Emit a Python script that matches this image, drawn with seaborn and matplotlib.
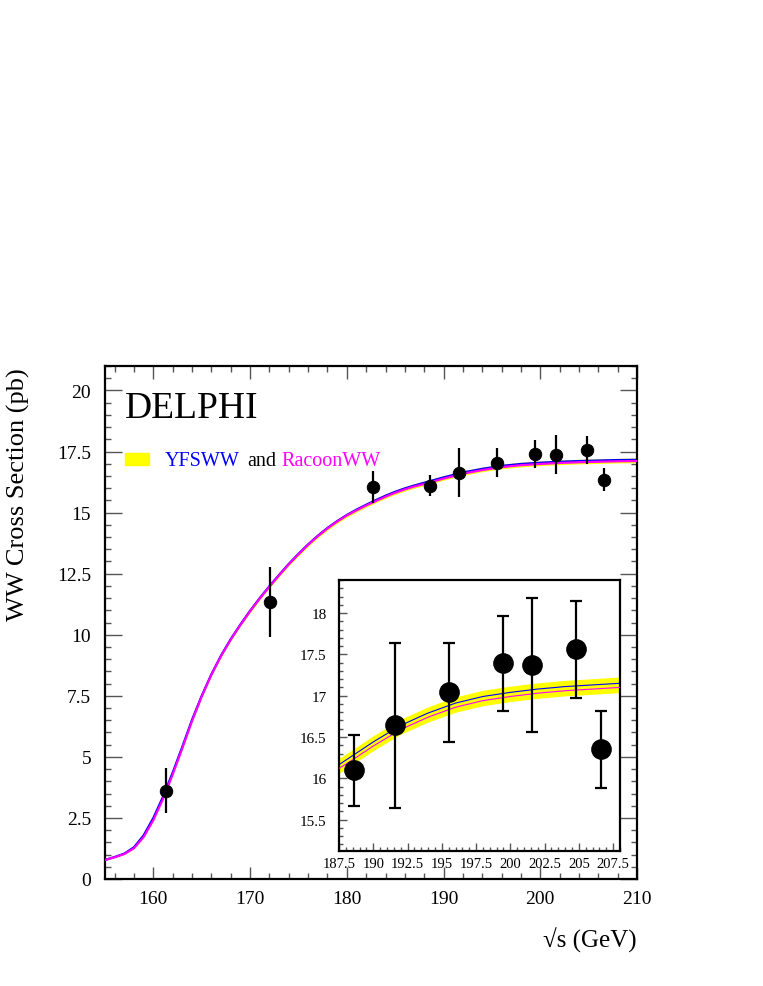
import numpy as np
import matplotlib
matplotlib.use("Agg")
import matplotlib.pyplot as plt
import seaborn as sns
from matplotlib.ticker import MultipleLocator, FuncFormatter

sns.set_style("ticks")
plt.rcParams["font.family"] = ["Liberation Serif", "DejaVu Serif"]
plt.rcParams["text.color"] = "black"
plt.rcParams["xtick.labelcolor"] = "black"
plt.rcParams["ytick.labelcolor"] = "black"

# theory curves
energy = [155, 156, 157, 158, 159, 160, 161, 162, 163, 164, 165, 166, 167, 168,
          169, 170, 171, 172, 173, 174, 175, 176, 177, 178, 179, 180, 181, 182,
          183, 184, 185, 186, 187, 188, 189, 190, 192, 194, 196, 198, 200, 202,
          204, 206, 208, 210]
yfsww = [0.78, 0.90, 1.04, 1.30, 1.79, 2.50, 3.37, 4.36, 5.42, 6.52, 7.50, 8.38,
         9.15, 9.82, 10.42, 10.98, 11.50, 11.99, 12.45, 12.90, 13.31, 13.70,
         14.05, 14.37, 14.65, 14.90, 15.12, 15.32, 15.51, 15.69, 15.85, 15.99,
         16.11, 16.22, 16.33, 16.44, 16.64, 16.79, 16.91, 16.99, 17.04, 17.08,
         17.11, 17.13, 17.15, 17.16]
racoonww = [0.78, 0.89, 1.02, 1.26, 1.72, 2.41, 3.28, 4.28, 5.36, 6.47, 7.47, 8.36,
            9.13, 9.80, 10.40, 10.96, 11.48, 11.97, 12.43, 12.88, 13.29, 13.68,
            14.03, 14.35, 14.63, 14.88, 15.09, 15.29, 15.47, 15.65, 15.81, 15.95,
            16.07, 16.17, 16.28, 16.39, 16.59, 16.74, 16.86, 16.94, 16.99, 17.03,
            17.06, 17.08, 17.10, 17.11]
band_frac = 0.0055

# DELPHI measurements
data_energy = [161.3, 172.1, 182.7, 188.6, 191.6, 195.5, 199.5, 201.6, 204.8, 206.6]
data_xsec = [3.62, 11.35, 16.05, 16.10, 16.64, 17.04, 17.39, 17.37, 17.56, 16.35]
data_err = [0.92, 1.43, 0.67, 0.43, 1.00, 0.60, 0.58, 0.81, 0.59, 0.47]

mean_curve = (np.array(yfsww) + np.array(racoonww)) / 2
band_lo = mean_curve * (1 - band_frac)
band_hi = mean_curve * (1 + band_frac)

fig = plt.figure(figsize=(7.63, 9.87), dpi=100)
ax = fig.add_axes([105 / 763, 1 - 880 / 987, 532 / 763, 513 / 987])


def draw_curves(a, lw):
    a.fill_between(energy, band_lo, band_hi, color="#ffff00", lw=0, zorder=1)
    sns.lineplot(x=energy, y=yfsww, ax=a, color="#0000ff", lw=lw, zorder=2)
    sns.lineplot(x=energy, y=racoonww, ax=a, color="#ff00ff", lw=lw, zorder=3)


def style_axes(a, major_len, minor_len):
    for s in a.spines.values():
        s.set_linewidth(1.6)
        s.set_color("black")
    a.tick_params(which="both", direction="in", top=True, right=True,
                  color="#555555", labelcolor="black", width=1.0)
    a.tick_params(which="major", length=major_len)
    a.tick_params(which="minor", length=minor_len)


# main panel
draw_curves(ax, 1.6)
ax.errorbar(data_energy, data_xsec, yerr=data_err, fmt="none", ecolor="black",
            elinewidth=1.6, capsize=0, zorder=4)
sns.scatterplot(x=data_energy, y=data_xsec, ax=ax, color="black", s=80,
                edgecolor="black", zorder=5)
ax.set_xlim(155, 210)
ax.set_ylim(0, 21)
ax.xaxis.set_major_locator(MultipleLocator(10))
ax.xaxis.set_minor_locator(MultipleLocator(2))
ax.yaxis.set_major_locator(MultipleLocator(2.5))
ax.yaxis.set_minor_locator(MultipleLocator(0.5))
ax.yaxis.set_major_formatter(FuncFormatter(lambda v, p: f"{v:g}"))
style_axes(ax, 9, 4.5)
ax.tick_params(axis="y", which="major", length=12)
ax.tick_params(axis="x", labelsize=14, pad=8)
ax.tick_params(axis="y", labelsize=14, pad=10)
ax.set_xlabel("")
ax.set_ylabel("")

fig.text(125 / 763, 1 - 418 / 987, "DELPHI", color="black", fontsize=27,
         ha="left", va="baseline")
fig.patches.append(plt.Rectangle((125 / 763, 1 - 466 / 987), 24 / 763, 12 / 987,
                                 transform=fig.transFigure, color="#ffff00"))
fig.text(165 / 763, 1 - 466 / 987, "YFSWW", color="#0000ff", fontsize=14.5, va="baseline")
fig.text(247 / 763, 1 - 466 / 987, "and", color="black", fontsize=14.5, va="baseline")
fig.text(281 / 763, 1 - 466 / 987, "RacoonWW", color="#ff00ff", fontsize=14.5, va="baseline")

fig.text(18 / 763, 1 - 495 / 987, "WW Cross Section (pb)", rotation=90,
         color="black", fontsize=19, ha="center", va="center")
fig.text(637 / 763, 1 - 940 / 987, "\u221as (GeV)", color="black", fontsize=18,
         ha="right", va="center")

# inset panel
ins = fig.add_axes([339 / 763, 1 - 852 / 987, 281 / 763, 271 / 987])
ins.set_facecolor("white")
draw_curves(ins, 0.8)
ins.errorbar(data_energy, data_xsec, yerr=data_err, fmt="none", ecolor="black",
             elinewidth=1.6, capsize=4, capthick=1.6, zorder=4)
sns.scatterplot(x=data_energy, y=data_xsec, ax=ins, color="black", s=190,
                edgecolor="black", zorder=5)
ins.set_xlim(187.5, 208.0)
ins.set_ylim(15.12, 18.4)
ins.xaxis.set_major_locator(MultipleLocator(2.5))
ins.xaxis.set_minor_locator(MultipleLocator(0.5))
ins.yaxis.set_major_locator(MultipleLocator(0.5))
ins.yaxis.set_minor_locator(MultipleLocator(0.1))
ins.xaxis.set_major_formatter(FuncFormatter(lambda v, p: f"{v:g}"))
ins.yaxis.set_major_formatter(FuncFormatter(lambda v, p: f"{v:g}"))
style_axes(ins, 6, 3)
ins.tick_params(top=False, right=False, which="both")
ins.tick_params(axis="x", labelsize=10.5, pad=4)
ins.tick_params(axis="y", labelsize=11, pad=9)
ins.set_xlabel("")
ins.set_ylabel("")

fig.savefig("out.png", dpi=100)
